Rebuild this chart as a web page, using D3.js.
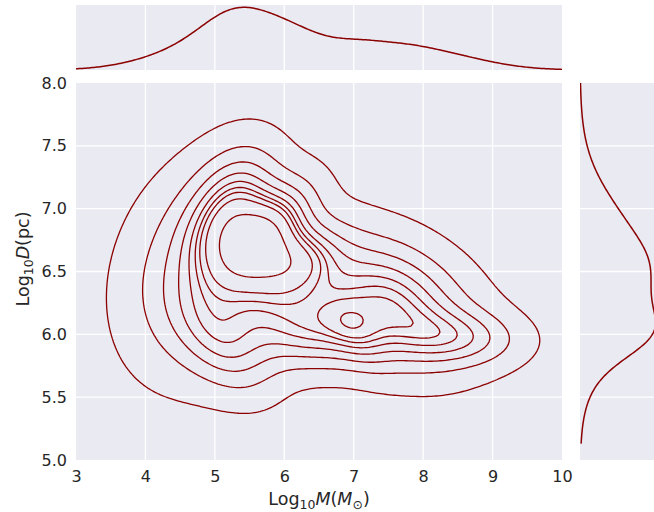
<!DOCTYPE html>
<html>
<head>
<meta charset="utf-8">
<script src="https://cdn.jsdelivr.net/npm/d3@7"></script>
<style>
  body { margin: 0; background: #fff; }
  svg { display: block; }
  text { font-family: "DejaVu Sans", sans-serif; fill: #262626; }
</style>
</head>
<body>
<svg width="654" height="512"></svg>
<script>
// joint density of (log M, log D), estimated from the contours as a sum of gaussian bumps
const bumpMx  = [5.279, 5.800, 5.633, 6.182, 5.162, 6.358, 7.012, 7.558, 4.867, 7.420, 8.552]
const bumpMy  = [6.981, 6.830, 6.480, 6.572, 5.919, 6.023, 6.015, 6.195, 6.510, 6.306, 5.973]
const bumpSx  = [0.419, 0.417, 0.555, 0.411, 0.481, 0.578, 0.313, 0.630, 0.763, 0.943, 0.593]
const bumpSy  = [0.325, 0.255, 0.301, 0.194, 0.287, 0.212, 0.198, 0.312, 0.542, 0.386, 0.150]
const bumpRho = [0.294, 0.566, -0.307, 0.243, -0.416, -0.075, -0.481, -0.250, 0.219, -0.378, -0.074]
const bumpW   = [0.090, 0.056, 0.061, 0.047, 0.056, 0.071, 0.012, 0.077, 0.233, 0.185, 0.037]

// seaborn iso-proportion levels (thresh .05, 10 levels, top one dropped)
const levelQuantiles = [0.05, 0.1556, 0.2611, 0.3667, 0.4722, 0.5778, 0.6833, 0.7889, 0.8944]
const yCut = 5.13   // lower end of the density support

const xTicks = [3, 4, 5, 6, 7, 8, 9, 10]
const yTicks = [5.0, 5.5, 6.0, 6.5, 7.0, 7.5, 8.0]

const red = "#8b0000"
const bg = "#eaeaf2"

const svg = d3.select("svg")

const x = d3.scaleLinear().domain([3, 10]).range([76, 562])
const y = d3.scaleLinear().domain([5, 8]).range([460, 83])

function pdf2(px, py) {
  let s = 0
  for (let k = 0; k < bumpW.length; k++) {
    const dx = (px - bumpMx[k]) / bumpSx[k], dy = (py - bumpMy[k]) / bumpSy[k]
    const r = bumpRho[k], q = 1 - r * r
    s += bumpW[k] / (2 * Math.PI * bumpSx[k] * bumpSy[k] * Math.sqrt(q)) *
      Math.exp(-(dx * dx - 2 * r * dx * dy + dy * dy) / (2 * q))
  }
  return s
}
function gauss(v, m, sd) { return Math.exp(-0.5 * ((v - m) / sd) ** 2) / (sd * Math.sqrt(2 * Math.PI)) }
function pdfX(v) { return d3.sum(bumpW, (w, k) => w * gauss(v, bumpMx[k], bumpSx[k])) }
function pdfY(v) { return d3.sum(bumpW, (w, k) => w * gauss(v, bumpMy[k], bumpSy[k])) }

// grid for the 2d density
const gx0 = 2, gx1 = 11, gy0 = yCut, gy1 = 8.8, nx = 270, ny = 150
const gdx = (gx1 - gx0) / (nx - 1), gdy = (gy1 - gy0) / (ny - 1)
const values = new Float64Array(nx * ny)
for (let j = 0; j < ny; j++)
  for (let i = 0; i < nx; i++)
    values[j * nx + i] = pdf2(gx0 + i * gdx, gy0 + j * gdy)

// density level that leaves each quantile of the mass below it
const sorted = Float64Array.from(values).sort()
const total = d3.sum(sorted)
let acc = 0
const cum = Array.from(sorted, v => (acc += v) / total)
const levels = levelQuantiles.map(q => sorted[d3.bisectLeft(cum, q)])

// panels
svg.append("rect").attr("x", 76).attr("y", 83).attr("width", 486).attr("height", 377).attr("fill", bg)
svg.append("rect").attr("x", 76).attr("y", 5).attr("width", 486).attr("height", 65).attr("fill", bg)
svg.append("rect").attr("x", 580).attr("y", 83).attr("width", 84).attr("height", 377).attr("fill", bg)

const defs = svg.append("defs")
defs.append("clipPath").attr("id", "cMain").append("rect").attr("x", 76).attr("y", 83).attr("width", 486).attr("height", 377)
defs.append("clipPath").attr("id", "cTop").append("rect").attr("x", 76).attr("y", 5).attr("width", 486).attr("height", 65)
defs.append("clipPath").attr("id", "cRight").append("rect").attr("x", 580).attr("y", 83).attr("width", 84).attr("height", 377)

// grid lines
const grid = svg.append("g").attr("stroke", "#fff").attr("stroke-width", 1.3)
xTicks.slice(1, -1).forEach(t => {
  grid.append("line").attr("x1", x(t)).attr("x2", x(t)).attr("y1", 83).attr("y2", 460)
  grid.append("line").attr("x1", x(t)).attr("x2", x(t)).attr("y1", 5).attr("y2", 70)
})
yTicks.slice(1, -1).forEach(t => {
  grid.append("line").attr("x1", 76).attr("x2", 562).attr("y1", y(t)).attr("y2", y(t))
  grid.append("line").attr("x1", 580).attr("x2", 664).attr("y1", y(t)).attr("y2", y(t))
})

// contours
const contours = d3.contours().size([nx, ny]).thresholds(levels)(values)
const proj = d3.geoTransform({
  point: function (px, py) {
    this.stream.point(x(gx0 + (px - 0.5) * gdx), y(gy0 + (py - 0.5) * gdy))
  }
})
svg.append("g").attr("clip-path", "url(#cMain)")
  .selectAll("path").data(contours).join("path")
  .attr("d", d3.geoPath(proj))
  .attr("fill", "none").attr("stroke", red).attr("stroke-width", 1.3)

// top marginal
const xs = d3.range(301).map(i => 3 + i * 7 / 300)
const peakX = d3.max(xs, pdfX)
const dTop = d3.scaleLinear().domain([0, peakX]).range([70, 7.3])
svg.append("path").attr("clip-path", "url(#cTop)")
  .datum(xs)
  .attr("d", d3.line().x(v => x(v)).y(v => dTop(pdfX(v))))
  .attr("fill", "none").attr("stroke", red).attr("stroke-width", 1.5)

// right marginal
const ys = d3.range(301).map(i => yCut + i * (8 - yCut) / 300)
const dRight = d3.scaleLinear().domain([0, pdfY(6.45)]).range([580, 651])
svg.append("path").attr("clip-path", "url(#cRight)")
  .datum(ys)
  .attr("d", d3.line().x(v => dRight(pdfY(v))).y(v => y(v)))
  .attr("fill", "none").attr("stroke", red).attr("stroke-width", 1.5)

// axes
const ax = svg.append("g").attr("transform", "translate(0,460)")
  .call(d3.axisBottom(x).tickValues(xTicks).tickFormat(d3.format("d")).tickSize(0).tickPadding(11))
const ay = svg.append("g").attr("transform", "translate(76,0)")
  .call(d3.axisLeft(y).tickValues(yTicks).tickFormat(d3.format(".1f")).tickSize(0).tickPadding(9))
;[ax, ay].forEach(g => {
  g.select(".domain").remove()
  g.selectAll("text").attr("font-size", 16).attr("font-family", "DejaVu Sans").attr("fill", "#262626")
})

// axis labels
const xl = svg.append("text").attr("x", 319).attr("y", 505).attr("text-anchor", "middle").attr("font-size", 17.5)
xl.append("tspan").text("Log")
xl.append("tspan").attr("font-size", 12.5).attr("dy", 4).text("10")
xl.append("tspan").attr("dy", -4).attr("font-style", "italic").text("M")
xl.append("tspan").text("(")
xl.append("tspan").attr("font-style", "italic").text("M")
xl.append("tspan").attr("font-size", 12.5).attr("dy", 4).text("\u2299")
xl.append("tspan").attr("dy", -4).text(")")

const yl = svg.append("text").attr("transform", "translate(29,259) rotate(-90)").attr("text-anchor", "middle").attr("font-size", 17.5)
yl.append("tspan").text("Log")
yl.append("tspan").attr("font-size", 12.5).attr("dy", 4).text("10")
yl.append("tspan").attr("dy", -4).attr("font-style", "italic").text("D")
yl.append("tspan").text("(pc)")
</script>
</body>
</html>
